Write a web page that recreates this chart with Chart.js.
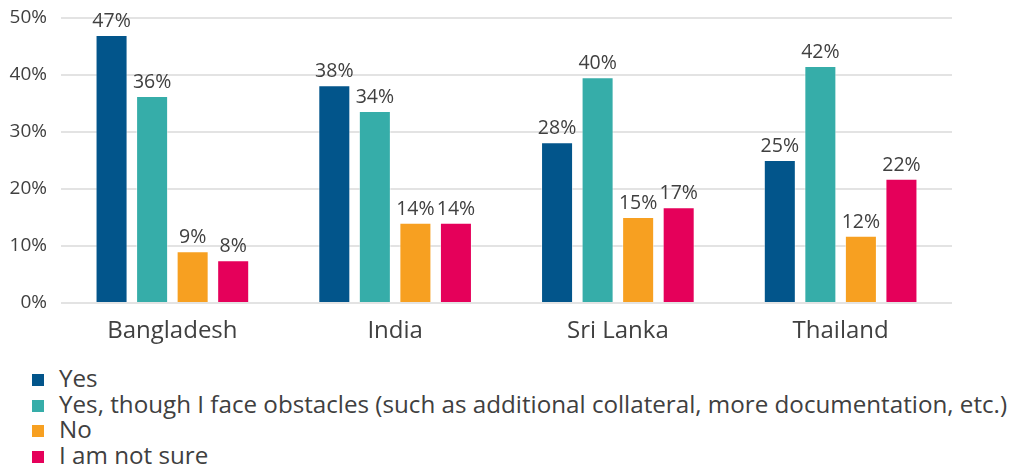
<!DOCTYPE html>
<html>
<head>
<meta charset="utf-8">
<script src="https://cdn.jsdelivr.net/npm/chart.js@4/dist/chart.umd.min.js"></script>
<style>
  html, body { margin: 0; padding: 0; background: #fff; }
  #wrap { position: relative; width: 1021px; height: 350px; }
  #legend { margin: 15px 0 0 32px; padding: 0; list-style: none;
            font-family: "Open Sans", sans-serif; font-size: 24.2px; color: #404040; }
  #legend li { height: 25.7px; line-height: 25.7px; white-space: nowrap; }
  #legend span.box { display: inline-block; width: 12px; height: 12px; margin-right: 15px; vertical-align: 1px; }
</style>
</head>
<body>
<div id="wrap"><canvas id="mainChart"></canvas></div>
<ul id="legend"></ul>
<script>
"use strict";

const countries = ["Bangladesh", "India", "Sri Lanka", "Thailand"];
const seriesNames = ["Yes", "Yes, though I face obstacles (such as additional collateral, more documentation, etc.)", "No", "I am not sure"];
const yesVals = [47.0, 38.2, 28.2, 25.1];
const obstacleVals = [36.3, 33.7, 39.6, 41.6];
const noVals = [9.1, 14.1, 15.1, 11.8];
const notSureVals = [7.5, 14.1, 16.8, 21.8];
const colors = ["#02558b", "#36ada9", "#f7a021", "#e5005a"];
const yTicks = [0, 10, 20, 30, 40, 50];

var textColor = "#404040";
var font = "'Open Sans', sans-serif";

var valueLabels = {
    id: "valueLabels",
    afterDatasetsDraw: function (chart) {
        var ctx = chart.ctx;
        ctx.save();
        ctx.font = "19.5px " + font;
        ctx.fillStyle = textColor;
        ctx.textAlign = "center";
        ctx.textBaseline = "alphabetic";
        chart.data.datasets.forEach(function (ds, i) {
            chart.getDatasetMeta(i).data.forEach(function (bar, j) {
                ctx.fillText(Math.round(ds.data[j]) + "%", bar.x, bar.y - 8);
            });
        });
        ctx.restore();
    }
};

var allData = [yesVals, obstacleVals, noVals, notSureVals];

var chart = new Chart(document.getElementById("mainChart"), {
    type: "bar",
    data: {
        labels: countries,
        datasets: allData.map(function (d, i) {
            return {
                label: seriesNames[i],
                data: d,
                backgroundColor: colors[i],
                borderColor: "rgba(255,255,255,0.5)",
                borderWidth: 1,
                categoryPercentage: 0.728,
                barPercentage: 0.79
            };
        })
    },
    options: {
        responsive: true,
        maintainAspectRatio: false,
        animation: false,
        layout: { padding: { top: 18, right: 69, bottom: 0, left: 0 } },
        plugins: { legend: { display: false }, tooltip: { enabled: false } },
        scales: {
            x: {
                grid: { display: false, drawTicks: false },
                border: { display: false },
                ticks: { color: textColor, font: { family: font, size: 24 }, padding: 14 },
                afterFit: function (s) { s.height = 47; }
            },
            y: {
                min: 0,
                max: 50,
                afterBuildTicks: function (s) { s.ticks = yTicks.map(function (v) { return { value: v }; }); },
                grid: { color: "#e3e3e3", lineWidth: 2, drawTicks: false },
                border: { display: false },
                ticks: {
                    color: textColor,
                    font: { family: font, size: 19 },
                    padding: 14,
                    callback: function (v) { return v + "%"; }
                },
                afterFit: function (s) {
                    s.width = 61;
                    s.paddingTop = 0;
                    s.paddingBottom = 0;
                }
            }
        }
    },
    plugins: [valueLabels]
});

var legend = document.getElementById("legend");
chart.data.datasets.forEach(function (ds) {
    var li = document.createElement("li");
    var box = document.createElement("span");
    box.className = "box";
    box.style.background = ds.backgroundColor;
    li.appendChild(box);
    li.appendChild(document.createTextNode(ds.label));
    legend.appendChild(li);
});
</script>
</body>
</html>
